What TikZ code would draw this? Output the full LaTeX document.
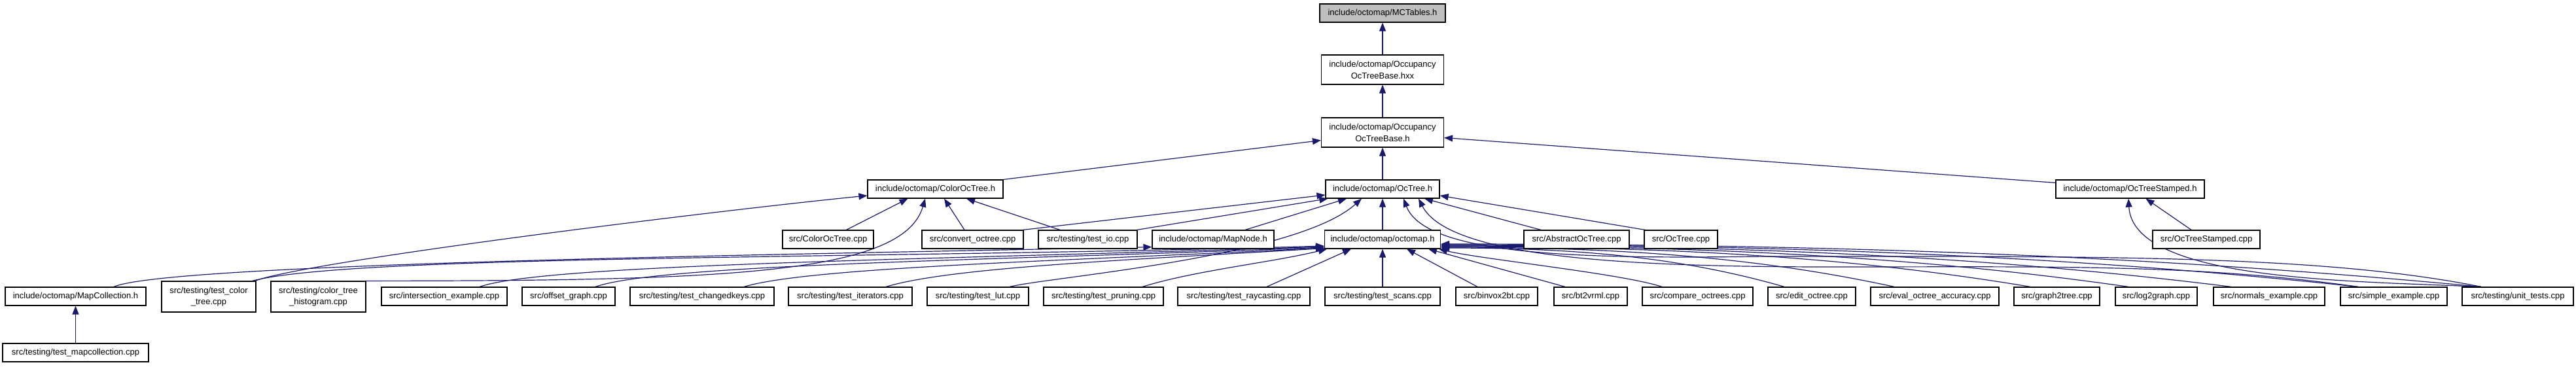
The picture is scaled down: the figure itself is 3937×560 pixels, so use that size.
\documentclass[tikz,border=0pt]{standalone}
\usepackage{fontspec}
\setmainfont{Liberation Sans}
\usetikzlibrary{arrows.meta}
\definecolor{edgecol}{HTML}{191970}
\definecolor{greyfill}{HTML}{BFBFBF}
\pgfdeclarelayer{paper}
\pgfdeclarelayer{edges}
\pgfsetlayers{paper,edges,main}
\begin{document}
\begin{tikzpicture}[x=1pt,y=-1pt,
  box/.style={draw=black, line width=1.2pt, fill=white, inner sep=0pt, minimum height=28pt, font=\fontsize{13}{17.7}\selectfont, align=center},
  tall/.style={minimum height=45pt},
  tallb/.style={minimum height=47pt},
  edge/.style={draw=edgecol, line width=1.2pt, -{Triangle[length=13pt,width=10pt]}},
]
\begin{pgfonlayer}{paper}
\fill[white] (0,0) rectangle (3937,560);
\end{pgfonlayer}
\useasboundingbox (0,0) rectangle (3937,560);
% row 0-2
\node[box, fill=greyfill, minimum width=192pt] (mct) at (2113,20) {include/octomap/MCTables.h};
\node[box, tall, minimum width=187pt] (hxx) at (2113,106.5) {include/octomap/Occupancy\\OcTreeBase.hxx};
\node[box, tall, minimum width=187pt] (occ) at (2113,202.5) {include/octomap/Occupancy\\OcTreeBase.h};
% row 3
\node[box, minimum width=207pt] (coh) at (1429.5,289) {include/octomap/ColorOcTree.h};
\node[box, minimum width=174pt] (oth) at (2113,289) {include/octomap/OcTree.h};
\node[box, minimum width=227pt] (osh) at (3255.5,289) {include/octomap/OcTreeStamped.h};
% row 4
\node[box, minimum width=139pt] (cocpp) at (1265.5,366) {src/ColorOcTree.cpp};
\node[box, minimum width=155pt] (conv) at (1486.5,366) {src/convert\_octree.cpp};
\node[box, minimum width=151pt] (tio) at (1662.5,366) {src/testing/test\_io.cpp};
\node[box, minimum width=186pt] (mapnode) at (1854,366) {include/octomap/MapNode.h};
\node[box, minimum width=177pt] (omh) at (2113,366) {include/octomap/octomap.h};
\node[box, minimum width=161pt] (aoc) at (2409.5,366) {src/AbstractOcTree.cpp};
\node[box, minimum width=112pt] (otcpp) at (2569,366) {src/OcTree.cpp};
\node[box, minimum width=164pt] (oscpp) at (3372,366) {src/OcTreeStamped.cpp};
% row 5
\node[box, minimum width=215pt] (mapcol) at (115.5,453) {include/octomap/MapCollection.h};
\node[box, tallb, minimum width=144pt] (tct) at (319,453.5) {src/testing/test\_color\\\_tree.cpp};
\node[box, tallb, minimum width=145pt] (cth) at (486.5,453.5) {src/testing/color\_tree\\\_histogram.cpp};
\node[box, minimum width=192pt] (inter) at (679,453) {src/intersection\_example.cpp};
\node[box, minimum width=142pt] (offs) at (869,453) {src/offset\_graph.cpp};
\node[box, minimum width=220pt] (chk) at (1073,453) {src/testing/test\_changedkeys.cpp};
\node[box, minimum width=189pt] (iter) at (1299.5,453) {src/testing/test\_iterators.cpp};
\node[box, minimum width=155pt] (lut) at (1494.5,453) {src/testing/test\_lut.cpp};
\node[box, minimum width=183pt] (prun) at (1686.5,453) {src/testing/test\_pruning.cpp};
\node[box, minimum width=202pt] (ray) at (1901,453) {src/testing/test\_raycasting.cpp};
\node[box, minimum width=176pt] (scans) at (2113,453) {src/testing/test\_scans.cpp};
\node[box, minimum width=125pt] (binvox) at (2287.5,453) {src/binvox2bt.cpp};
\node[box, minimum width=112pt] (bt2) at (2431,453) {src/bt2vrml.cpp};
\node[box, minimum width=169pt] (cmp) at (2594.5,453) {src/compare\_octrees.cpp};
\node[box, minimum width=134pt] (edit) at (2769,453) {src/edit\_octree.cpp};
\node[box, minimum width=196pt] (eval) at (2957,453) {src/eval\_octree\_accuracy.cpp};
\node[box, minimum width=131pt] (gtt) at (3143.5,453) {src/graph2tree.cpp};
\node[box, minimum width=125pt] (ltg) at (3295.5,453) {src/log2graph.cpp};
\node[box, minimum width=170pt] (norm) at (3468,453) {src/normals\_example.cpp};
\node[box, minimum width=163pt] (simp) at (3658.5,453) {src/simple\_example.cpp};
\node[box, minimum width=170pt] (unit) at (3848,453) {src/testing/unit\_tests.cpp};
% row 6
\node[box, minimum width=223pt] (tmc) at (115.5,539) {src/testing/test\_mapcollection.cpp};

\begin{pgfonlayer}{edges}
% edges top
\draw[edge] (hxx.north) -- (mct.south);
\draw[edge] (occ.north) -- (hxx.south);
\draw[edge] (oth.north) -- (occ.south);
\draw[edge] (coh.north east) -- ([yshift=-12pt]occ.west);
\draw[edge] ([yshift=-5pt]osh.north west) -- ([yshift=-8pt]occ.east);
% ColorOcTree.h
\draw[edge] ([xshift=28pt]cocpp.north) -- ([xshift=-42pt]coh.south);
\draw[edge] ([xshift=-12.5pt]conv.north) -- ([xshift=13.5pt]coh.south);
\draw[edge] ([xshift=-42.5pt]tio.north) -- ([xshift=47.5pt]coh.south);
\draw[edge] ([xshift=-2pt]tct.north east) .. controls +(80,-30) and +(-250,25) .. ([yshift=-10pt]coh.west);
\draw[edge] ([xshift=-2pt]cth.north east) .. controls +(543,0) and +(-34,117) .. ([xshift=-15.5pt]coh.south);
% OcTree.h
\draw[edge] (omh.north) -- (oth.south);
\draw[edge] ([xshift=-1pt]conv.north east) -- ([yshift=-9pt]oth.west);
\draw[edge] ([xshift=-1pt]tio.north east) -- ([xshift=4pt]oth.south west);
\draw[edge] ([xshift=49pt]mapnode.north) -- ([xshift=-55pt]oth.south);
\draw[edge] ([xshift=48.5pt]lut.north) .. controls +(60,-15) and +(-100,90) .. ([xshift=-32pt]oth.south);
\draw[edge] ([xshift=-54.5pt]aoc.north) -- ([xshift=64pt]oth.south);
\draw[edge] ([xshift=2pt]otcpp.north west) -- ([yshift=-10pt]oth.east);
\draw[edge] ([xshift=-56pt]unit.north) .. controls +(-250,-50) and +(500,0) .. (2700,392) .. controls +(-250,3) and +(35,92) .. ([xshift=32pt]oth.south);
\draw[edge] ([xshift=-54.5pt]simp.north) .. controls +(-250,-35) and +(350,0) .. (2800,408) .. controls +(-300,0) and +(47,92) .. ([xshift=55pt]oth.south);
% octomap.h from below
\draw[edge] (scans.north) -- (omh.south);
\draw[edge] ([xshift=-29.5pt]binvox.north) -- ([xshift=37pt]omh.south);
\draw[edge] ([xshift=-39pt]bt2.north) -- ([xshift=70pt]omh.south);
\draw[edge] ([xshift=-54.5pt]cmp.north) .. controls +(-60,-20) and +(60,15) .. ([xshift=-3pt]omh.south east);
\draw[edge] ([xshift=-42pt]edit.north) .. controls +(-157,-45) and +(210,0) .. ([yshift=-13pt]omh.east);
\draw[edge] ([xshift=-62pt]eval.north) .. controls +(-208,-45) and +(277,0) .. ([yshift=-12pt]omh.east);
\draw[edge] ([xshift=-40.5pt]gtt.north) .. controls +(-270,-45) and +(360,0) .. ([yshift=-11pt]omh.east);
\draw[edge] ([xshift=-42.5pt]ltg.north) .. controls +(-315,-45) and +(420,0) .. ([yshift=-10pt]omh.east);
\draw[edge] ([xshift=-58pt]norm.north) .. controls +(-362,-45) and +(483,0) .. ([yshift=-9pt]omh.east);
\draw[edge] ([xshift=-54.5pt]simp.north) .. controls +(-420,-45) and +(560,0) .. ([yshift=-8pt]omh.east);
\draw[edge] ([xshift=-56pt]unit.north) .. controls +(-477,-45) and +(636,0) .. ([yshift=-7pt]omh.east);
% octomap.h from the left
\draw[edge] ([xshift=-6pt]tct.north east) .. controls +(150,-40) and +(-700,20) .. ([yshift=-10pt]omh.west);
\draw[edge] ([xshift=54pt]inter.north) .. controls +(100,-35) and +(-600,20) .. ([yshift=-11pt]omh.west);
\draw[edge] ([xshift=41pt]offs.north) .. controls +(100,-35) and +(-500,20) .. ([yshift=-12pt]omh.west);
\draw[edge] ([xshift=64pt]chk.north) .. controls +(100,-30) and +(-400,20) .. ([yshift=-13pt]omh.west);
\draw[edge] ([xshift=54.5pt]iter.north) .. controls +(100,-30) and +(-300,18) .. ([yshift=-13.5pt]omh.west);
\draw[edge] ([xshift=59.5pt]prun.north) .. controls +(80,-25) and +(-80,20) .. ([xshift=4pt]omh.south west);
\draw[edge] ([xshift=35pt]ray.north) -- ([xshift=-48pt]omh.south);
% MapNode, MapCollection
\draw[edge] ([xshift=58.5pt]mapcol.north) .. controls +(80,-35) and +(-600,12) .. ([yshift=3pt]mapnode.south west);
\draw[edge] (tmc.north) -- (mapcol.south);
% OcTreeStamped.h
\draw[edge] ([xshift=-23pt]oscpp.north) -- ([xshift=24pt]osh.south);
\draw[edge] ([xshift=-56pt]unit.north) .. controls +(-192,-9) and +(7,127) .. ([xshift=-2.5pt]osh.south);
\end{pgfonlayer}
\end{tikzpicture}
\end{document}
